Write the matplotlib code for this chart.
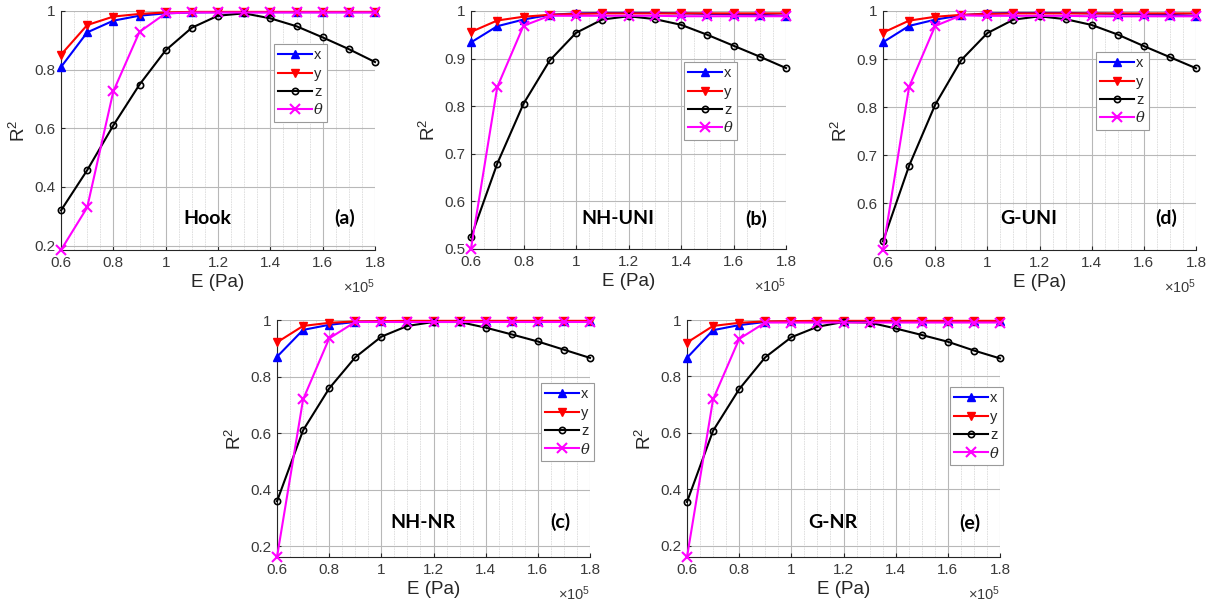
import matplotlib
matplotlib.use("Agg")
import matplotlib.pyplot as plt
import numpy as np
from matplotlib.ticker import MultipleLocator, FuncFormatter

plt.rcParams['font.family'] = ['Liberation Sans', 'DejaVu Sans']
plt.rcParams['mathtext.fontset'] = 'custom'
plt.rcParams['mathtext.rm'] = 'Liberation Sans'
plt.rcParams['mathtext.default'] = 'regular'

E = [0.6e5, 0.7e5, 0.8e5, 0.9e5, 1.0e5, 1.1e5, 1.2e5, 1.3e5, 1.4e5, 1.5e5, 1.6e5, 1.7e5, 1.8e5]

# (a) Hook
hook_x = [0.809, 0.927, 0.967, 0.984, 0.992, 0.995, 0.996, 0.996, 0.996, 0.996, 0.996, 0.996, 0.996]
hook_y = [0.851, 0.952, 0.981, 0.990, 0.995, 0.997, 0.997, 0.997, 0.997, 0.997, 0.997, 0.997, 0.997]
hook_z = [0.320, 0.457, 0.610, 0.749, 0.866, 0.943, 0.984, 0.992, 0.975, 0.948, 0.910, 0.870, 0.826]
hook_t = [0.185, 0.330, 0.726, 0.929, 0.992, 0.995, 0.995, 0.995, 0.995, 0.995, 0.995, 0.995, 0.995]

# (b) NH-UNI
nhuni_x = [0.934, 0.968, 0.982, 0.992, 0.995, 0.996, 0.996, 0.996, 0.995, 0.994, 0.993, 0.992, 0.990]
nhuni_y = [0.956, 0.980, 0.988, 0.992, 0.994, 0.995, 0.995, 0.995, 0.995, 0.995, 0.995, 0.995, 0.995]
nhuni_z = [0.524, 0.679, 0.805, 0.896, 0.954, 0.982, 0.989, 0.983, 0.971, 0.950, 0.927, 0.904, 0.880]
nhuni_t = [0.500, 0.840, 0.969, 0.990, 0.990, 0.990, 0.990, 0.990, 0.989, 0.989, 0.989, 0.989, 0.989]

# (d) G-UNI
guni_x = [0.935, 0.969, 0.982, 0.991, 0.995, 0.996, 0.996, 0.996, 0.995, 0.994, 0.993, 0.992, 0.990]
guni_y = [0.955, 0.980, 0.988, 0.992, 0.994, 0.995, 0.995, 0.995, 0.995, 0.995, 0.995, 0.995, 0.995]
guni_z = [0.521, 0.678, 0.805, 0.898, 0.954, 0.982, 0.989, 0.983, 0.971, 0.951, 0.927, 0.904, 0.881]
guni_t = [0.503, 0.842, 0.969, 0.991, 0.990, 0.990, 0.990, 0.990, 0.989, 0.989, 0.989, 0.989, 0.989]

# (c) NH-NR
nhnr_x = [0.870, 0.965, 0.983, 0.993, 0.995, 0.996, 0.996, 0.996, 0.996, 0.996, 0.996, 0.996, 0.996]
nhnr_y = [0.921, 0.979, 0.990, 0.995, 0.996, 0.997, 0.997, 0.997, 0.997, 0.997, 0.997, 0.997, 0.997]
nhnr_z = [0.359, 0.610, 0.758, 0.868, 0.941, 0.979, 0.993, 0.993, 0.973, 0.949, 0.924, 0.895, 0.866]
nhnr_t = [0.162, 0.719, 0.935, 0.993, 0.993, 0.993, 0.993, 0.993, 0.993, 0.993, 0.993, 0.993, 0.993]

# (e) G-NR
gnr_x = [0.866, 0.964, 0.982, 0.993, 0.995, 0.996, 0.996, 0.996, 0.996, 0.996, 0.996, 0.996, 0.996]
gnr_y = [0.920, 0.979, 0.990, 0.995, 0.996, 0.997, 0.997, 0.997, 0.997, 0.997, 0.997, 0.997, 0.997]
gnr_z = [0.356, 0.608, 0.755, 0.868, 0.939, 0.976, 0.993, 0.991, 0.970, 0.947, 0.923, 0.892, 0.864]
gnr_t = [0.161, 0.719, 0.933, 0.991, 0.991, 0.991, 0.991, 0.991, 0.991, 0.991, 0.991, 0.991, 0.991]

series_labels = ['x', 'y', 'z', 'θ']
model_names = ['Hook', 'NH-UNI', 'G-UNI', 'NH-NR', 'G-NR']
panel_tags = ['(a)', '(b)', '(d)', '(c)', '(e)']

W, H = 1217, 611
fig = plt.figure(figsize=(W / 100, H / 100), dpi=100)

def rect(l, r, t, b):
    return [l / W, (H - b) / H, (r - l) / W, (b - t) / H]

panels = [
    dict(pos=rect(61, 375, 11, 250), data=(hook_x, hook_y, hook_z, hook_t), ylim=(min(hook_t), 1),
         ystep=0.2, name=model_names[0], tag=panel_tags[0], ty=0.294, leg=(274, 44)),
    dict(pos=rect(471, 786, 11, 249), data=(nhuni_x, nhuni_y, nhuni_z, nhuni_t), ylim=(0.4995, 1),
         ystep=0.1, name=model_names[1], tag=panel_tags[1], ty=0.563, leg=(684, 62)),
    dict(pos=rect(883, 1196, 11, 250), data=(guni_x, guni_y, guni_z, guni_t), ylim=(min(guni_t), 1),
         ystep=0.1, name=model_names[2], tag=panel_tags[2], ty=0.569, leg=(1096, 52)),
    dict(pos=rect(277, 590, 320, 557), data=(nhnr_x, nhnr_y, nhnr_z, nhnr_t), ylim=(min(nhnr_t), 1),
         ystep=0.2, name=model_names[3], tag=panel_tags[3], ty=0.285, leg=(541, 383)),
    dict(pos=rect(687, 1000, 320, 557), data=(gnr_x, gnr_y, gnr_z, gnr_t), ylim=(min(gnr_t), 1),
         ystep=0.2, name=model_names[4], tag=panel_tags[4], ty=0.283, leg=(950, 387)),
]

styles = [
    dict(color='#0000ff', marker='^', markersize=5.5, markerfacecolor='#0000ff'),
    dict(color='#ff0000', marker='v', markersize=5.5, markerfacecolor='#ff0000'),
    dict(color='#000000', marker='o', markersize=4.5, markerfacecolor='none', markeredgewidth=1.2),
    dict(color='#ff00ff', marker='x', markersize=7, markeredgewidth=1.5),
]

axcol = '#262626'
for p in panels:
    ax = fig.add_axes(p['pos'])
    handles = []
    for vals, st, lab in zip(p['data'], styles, series_labels):
        h, = ax.plot(E, vals, linewidth=1.5, label=lab, clip_on=False, zorder=3, **st)
        handles.append(h)
    ax.set_xlim(0.6e5, 1.8e5)
    ax.set_ylim(*p['ylim'])
    ax.xaxis.set_major_locator(MultipleLocator(0.2e5))
    ax.xaxis.set_minor_locator(MultipleLocator(0.05e5))
    ax.yaxis.set_major_locator(MultipleLocator(p['ystep']))
    ax.xaxis.set_major_formatter(FuncFormatter(lambda v, pos: '%g' % round(v / 1e5, 3)))
    ax.yaxis.set_major_formatter(FuncFormatter(lambda v, pos: '%g' % round(v, 3)))
    ax.grid(True, which='major', color='#b8b8b8', linewidth=0.8)
    ax.grid(True, which='minor', axis='x', color='#dcdcdc', linewidth=0.6, linestyle=(0, (2, 1)))
    ax.set_axisbelow(True)
    for s in ['top', 'right']:
        ax.spines[s].set_visible(False)
    for s in ['left', 'bottom']:
        ax.spines[s].set_color(axcol)
        ax.spines[s].set_linewidth(0.8)
    ax.tick_params(axis='both', which='major', direction='in', length=3, color=axcol,
                   labelcolor='#3a3a3a', labelsize=11, pad=4)
    ax.tick_params(axis='both', which='minor', direction='in', length=0)
    ax.set_xlabel('E (Pa)', fontsize=13.5, color=axcol, labelpad=3)
    ax.set_ylabel('R$^2$', fontsize=13.5, color=axcol, labelpad=4)
    ax.text(1.0, -0.115, '×10$^5$', transform=ax.transAxes, ha='right', va='top',
            fontsize=10.5, color='#3a3a3a')
    ax.text(1.16e5, p['ty'], p['name'], ha='center', va='center', fontsize=14,
            fontweight='bold', family=['Lato', 'DejaVu Sans'], color='black')
    ax.text(1.685e5, p['ty'], p['tag'], ha='center', va='center', fontsize=14,
            fontweight='bold', family=['Lato', 'DejaVu Sans'], color='black')
    lx, ly = p['leg']
    leg = ax.legend(handles=handles, loc='upper left', bbox_to_anchor=(lx / W, 1 - ly / H),
                    bbox_transform=fig.transFigure, fontsize=10.5, frameon=True, fancybox=False,
                    edgecolor='#9a9a9a', framealpha=1, borderpad=0.3, labelspacing=0.3,
                    handlelength=2.3, handletextpad=0.15, borderaxespad=0)
    leg.get_frame().set_linewidth(0.8)
    for t in leg.get_texts():
        t.set_color(axcol)
    th = leg.get_texts()[3]
    th.set_family('DejaVu Serif')
    th.set_style('italic')

fig.savefig('out.png', dpi=100)
